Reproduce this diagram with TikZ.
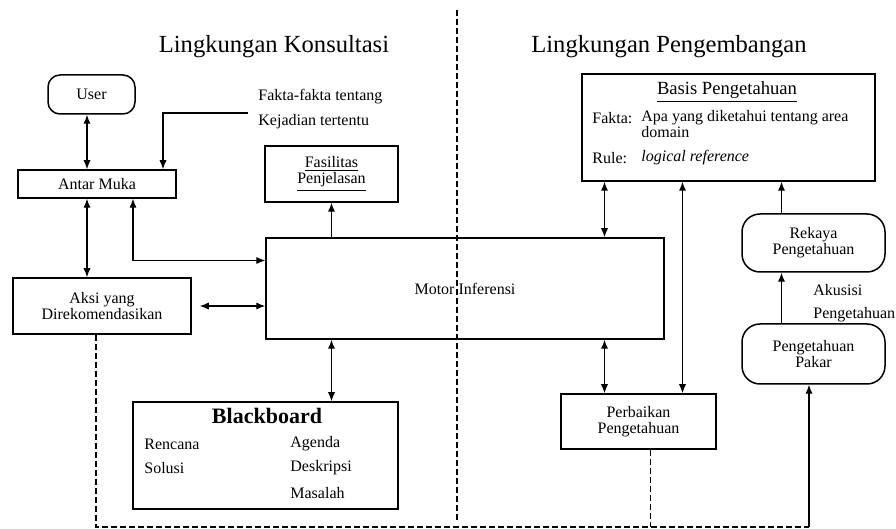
\documentclass[tikz,border=0pt]{standalone}
\usepackage{fontspec}
\setmainfont{Liberation Serif}
\usetikzlibrary{arrows.meta}

\tikzset{
  box/.style={draw, line width=0.75pt, inner sep=0pt, align=center,
    font=\fontsize{8}{8}\selectfont},
  pill/.style={box, rounded corners=9pt},
  txt/.style={inner sep=0pt, anchor=west, font=\fontsize{8}{8}\selectfont},
  heading/.style={inner sep=0pt, font=\fontsize{12.3}{14}\selectfont},
  arr/.style={line width=0.6pt, -{Latex[length=4.5pt,width=3.6pt]}},
  dbl/.style={line width=0.6pt,
    {Latex[length=4.5pt,width=3.6pt]}-{Latex[length=4.5pt,width=3.6pt]}},
  divline/.style={line width=0.7pt, dash pattern=on 3pt off 1.5pt}
}

\begin{document}
\begin{tikzpicture}[x=0.5pt, y=-0.5pt]
  \useasboundingbox (0,0) rectangle (896,529);

  % Headings and divider
  \node[heading] (tkons) at (274,47) {Lingkungan Konsultasi};
  \node[heading] (tpeng) at (669,47) {Lingkungan Pengembangan};
  \coordinate (divtop) at (457,10);
  \coordinate (divbot) at (457,522);
  \draw[divline] (divtop) -- (divbot);

  % Consultation side
  \node[box, rounded corners=6pt, minimum width=43.5pt, minimum height=19.5pt]
    (user) at (91.5,94.5) {User};
  \node[box, minimum width=79pt, minimum height=14pt] (antar) at (97,184) {Antar Muka};
  \node[box, minimum width=89pt, minimum height=28pt] (aksi) at (102,306)
    {Aksi yang\\Direkomendasikan};
  \node[box, minimum width=66.5pt, minimum height=28pt] (fasil) at (331.5,174)
    {\underline{Fasilitas}\\\underline{Penjelasan}};
  \node[box, minimum width=199pt, minimum height=50.5pt] (motor) at (465,288.5)
    {Motor Inferensi};
  \node[txt] (fakta1) at (258,97) {Fakta-fakta tentang};
  \node[txt] (fakta2) at (258,122) {Kejadian tertentu};

  % Blackboard
  \node[box, minimum width=132.5pt, minimum height=53.5pt] (black) at (265.5,455.5) {};
  \node[inner sep=0pt, font=\fontsize{11}{12}\selectfont\bfseries] (bbtitle)
    at (267,416) {Blackboard};
  \node[txt] (rencana) at (144,444) {Rencana};
  \node[txt] (solusi) at (144,468) {Solusi};
  \node[txt] (agenda) at (290,444) {Agenda};
  \node[txt] (deskripsi) at (290,468) {Deskripsi};
  \node[txt] (masalah) at (290,493) {Masalah};

  % Development side
  \node[box, minimum width=146.5pt, minimum height=53.5pt] (basis) at (728.5,127.5) {};
  \node[inner sep=0pt, font=\fontsize{9.3}{10}\selectfont] (btitle) at (727,92)
    {\underline{Basis Pengetahuan}};
  \node[txt] (bfakta) at (592,118) {Fakta:};
  \node[txt] (bapa) at (641,118) {Apa yang diketahui tentang area};
  \node[txt] (bdomain) at (641,132) {domain};
  \node[txt] (brule) at (592,158) {Rule:};
  \node[txt] (blogic) at (641,158) {\textit{logical reference}};
  \node[pill, minimum width=71.5pt, minimum height=29pt] (rekaya) at (813.5,243)
    {Rekaya\\Pengetahuan};
  \node[pill, minimum width=71.5pt, minimum height=30pt] (pakar) at (813.5,354)
    {Pengetahuan\\Pakar};
  \node[box, minimum width=77.5pt, minimum height=27.5pt] (perb) at (638.5,421.5)
    {Perbaikan\\Pengetahuan};
  \node[txt] (akusisi) at (813,290) {Akusisi};
  \node[txt] (akpeng) at (813,315) {Pengetahuan};

  % Helper points
  \coordinate (uix) at ([xshift=-5pt]antar.south);
  \coordinate (kbl) at ([xshift=-62pt]basis.south);
  \coordinate (kbm) at ([xshift=-23pt]basis.south);
  \coordinate (kbr) at ([xshift=-16pt]rekaya.north);
  \coordinate (faktaend) at (248,113);
  \coordinate (loopend) at (809,527);

  % Connectors
  \draw[dbl] (uix |- user.south) -- (uix |- antar.north);
  \draw[arr] (faktaend) -| ([xshift=33pt]antar.north);
  \draw[dbl] (uix) -- (uix |- aksi.north);
  \draw[dbl] ([xshift=18pt]antar.south) |- ([yshift=14pt]motor.west);
  \draw[dbl] ([xshift=4pt]aksi.east) -- (aksi.east -| motor.west);
  \draw[arr] (fasil.south |- motor.north) -- (fasil.south);
  \draw[dbl] (fasil.south |- motor.south) -- (fasil.south |- black.north);
  \draw[dbl] (kbl) -- (kbl |- motor.north);
  \draw[dbl] (kbl |- motor.south) -- (kbl |- perb.north);
  \draw[dbl] (kbm) -- (kbm |- perb.north);
  \draw[arr] (kbr) -- (kbr |- basis.south);
  \draw[arr] (kbr |- pakar.north) -- (kbr |- rekaya.south);

  % Feedback loop
  \draw[divline] ([xshift=-3pt]aksi.south) |- (loopend);
  \draw[divline] ([xshift=6pt]perb.south) -- ([xshift=6pt]perb.south |- loopend);
  \draw[arr] (loopend) -- (loopend |- pakar.south);
\end{tikzpicture}
\end{document}
